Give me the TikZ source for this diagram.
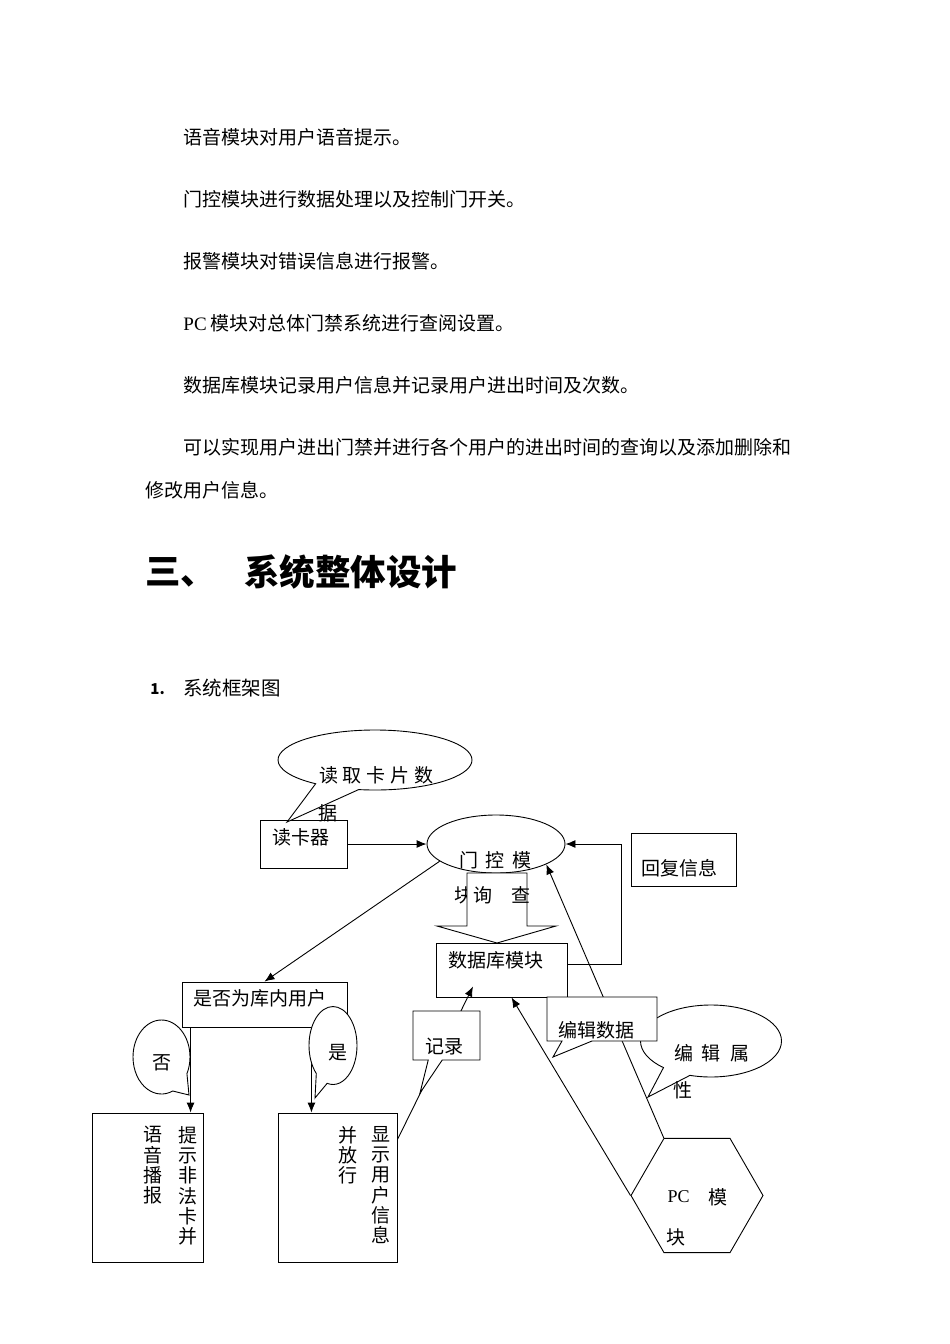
\documentclass[tikz,border=0pt]{standalone}
\usepackage{fontspec}
\newfontfamily\cjk{Noto Sans CJK SC}
\newfontfamily\latin{Liberation Serif}
\usetikzlibrary{arrows.meta,shapes.geometric,shapes.callouts}

\tikzset{
  box/.style={draw, line width=0.9pt, inner sep=0pt},
  bubble/.style={draw, line width=0.9pt, fill=white, inner sep=0pt},
  txt/.style={inner sep=0pt, font=\cjk\fontsize{19}{20.2}\selectfont},
  para/.style={txt, anchor=west},
  column/.style={txt, anchor=north, align=center}
}

\begin{document}
\begin{tikzpicture}[x=1pt, y=-1pt, >={Latex[length=10pt,width=8pt]}, line width=0.9pt]
\fill[white] (0,0) rectangle (950,1344);
\useasboundingbox (0,0) rectangle (950,1344);

\node[para] (p1) at (183,137) {语音模块对用户语音提示。};
\node[para] (p2) at (183,199) {门控模块进行数据处理以及控制门开关。};
\node[para] (p3) at (183,261) {报警模块对错误信息进行报警。};
\node[para] (p4) at (183,323) {{\latin PC} 模块对总体门禁系统进行查阅设置。};
\node[para] (p5) at (183,385) {数据库模块记录用户信息并记录用户进出时间及次数。};
\node[para] (p6) at (183,447) {可以实现用户进出门禁并进行各个用户的进出时间的查询以及添加删除和};
\node[para] (p7) at (145,490) {修改用户信息。};

\node[anchor=west, inner sep=0pt, font=\cjk\bfseries\fontsize{35.5}{40}\selectfont] (secNum) at (145,572) {三、};
\node[anchor=west, inner sep=0pt, font=\cjk\bfseries\fontsize{35.5}{40}\selectfont] (secTitle) at (244,572) {系统整体设计};
\node[anchor=west, inner sep=0pt, font=\cjk\bfseries\fontsize{15}{18}\selectfont] (subNum) at (150,689) {1.};
\node[anchor=west, inner sep=0pt, font=\cjk\fontsize{19.5}{22}\selectfont] (subTitle) at (183,688) {系统框架图};

% boxes
\node[box, minimum width=87, minimum height=48] (reader) at (303.5,844) {};
\node[box, ellipse, minimum width=138, minimum height=58] (door) at (496,844) {};
\node[box, minimum width=131, minimum height=54] (db) at (501.5,970) {};
\node[box, minimum width=105, minimum height=53] (reply) at (683.5,859.5) {};
\node[box, minimum width=165, minimum height=45] (check) at (264.5,1004.5) {};
\node[box, minimum width=111, minimum height=149] (noBox) at (147.5,1187.5) {};
\node[box, minimum width=119, minimum height=149] (yesBox) at (337.5,1187.5) {};
\node[box, regular polygon, regular polygon sides=6, minimum size=132] (pc) at (697,1195.5) {};

% connectors
\coordinate (noIn) at ([xshift=9pt]check.south west);
\coordinate (yesIn) at ([xshift=-36pt]check.south east);
\coordinate (recFrom) at ([yshift=-27pt]yesBox.north east);
\coordinate (recTo) at ([xshift=-28.5pt,yshift=11pt]db.south);
\draw[->] (reader) -- (door);
\draw[->] (door.197) -- (check.north);
\draw[->] (noIn) -- (noIn |- noBox.north);
\draw[->] (yesIn) -- (yesIn |- yesBox.north);
\draw[->] ([yshift=6pt]db.east) -- ++(54,0) |- (door.east);
\draw[->] (recFrom) -- (recTo);
\draw[->] (pc.corner 3) -- ([xshift=10pt]db.south);
\draw[->] (pc.corner 2) -- (door.-22);

% texts under the shapes
\node[txt] (doorT1) at (495.5,860) {门\hspace{7.25pt}控\hspace{7.25pt}模};
\node[txt] (doorT2) at (464,895) {块};
\draw[fill=white] (467,873) -- (527,873) -- (527,926) -- (556,926) -- (497,943)
    -- (437,926) -- (467,926) -- cycle;
\node[txt] (queryT1) at (482.5,895) {询};
\node[txt] (queryT2) at (520.5,895) {查};

% callouts
\node[bubble, ellipse callout, minimum width=194, minimum height=60,
  callout absolute pointer={(287,822)}, callout pointer arc=28] (readB) at (375,760) {};
\node[bubble, ellipse callout, minimum width=57, minimum height=74,
  callout absolute pointer={(189,1095)}, callout pointer arc=40] (noB) at (161.5,1057) {};
\node[bubble, ellipse callout, minimum width=48, minimum height=78,
  callout absolute pointer={(315,1098)}, callout pointer arc=30] (yesB) at (333,1045.5) {};
\node[bubble, rectangle callout, minimum width=67, minimum height=49,
  callout absolute pointer={(420,1093)}, callout pointer width=14pt] (recB) at (446.5,1035.5) {};
\node[bubble, ellipse callout, minimum width=141, minimum height=72,
  callout absolute pointer={(648,1097)}, callout pointer arc=25] (attrB) at (711,1041) {};
\node[bubble, rectangle callout, minimum width=110, minimum height=44,
  callout absolute pointer={(553,1057)}, callout pointer width=30pt] (editB) at (602,1019) {};

% labels
\node[txt] (readBT1) at (376,775) {读\hspace{4.75pt}取\hspace{4.75pt}卡\hspace{4.75pt}片\hspace{4.75pt}数};
\node[txt] (readBT2) at (328,813) {据};
\node[txt] (readerT) at (301,837) {读卡器};
\node[txt] (dbT) at (496,960) {数据库模块};
\node[txt] (replyT) at (679.5,868) {回复信息};
\node[txt] (checkT) at (260,998) {是否为库内用户};
\node[txt] (noBT) at (162,1063) {否};
\node[txt] (yesBT) at (338,1053) {是};
\node[txt] (recBT) at (444,1047) {记录};
\node[txt] (editBT) at (596,1030) {编辑数据};
\node[txt] (attrBT1) at (711.5,1053) {编\hspace{9pt}辑\hspace{9pt}属};
\node[txt] (attrBT2) at (683,1090) {性};
\node[column] (noT1) at (188,1126) {提\\示\\非\\法\\卡\\并};
\node[column] (noT2) at (153,1126) {语\\音\\播\\报};
\node[column] (yesT1) at (381,1126) {显\\示\\用\\户\\信\\息};
\node[column] (yesT2) at (348,1126) {并\\放\\行};
\node[txt, font=\latin\fontsize{18}{20}\selectfont] (pcT1) at (678.5,1197) {PC};
\node[txt] (pcT2) at (718,1197) {模};
\node[txt] (pcT3) at (676,1237) {块};
\end{tikzpicture}
\end{document}
